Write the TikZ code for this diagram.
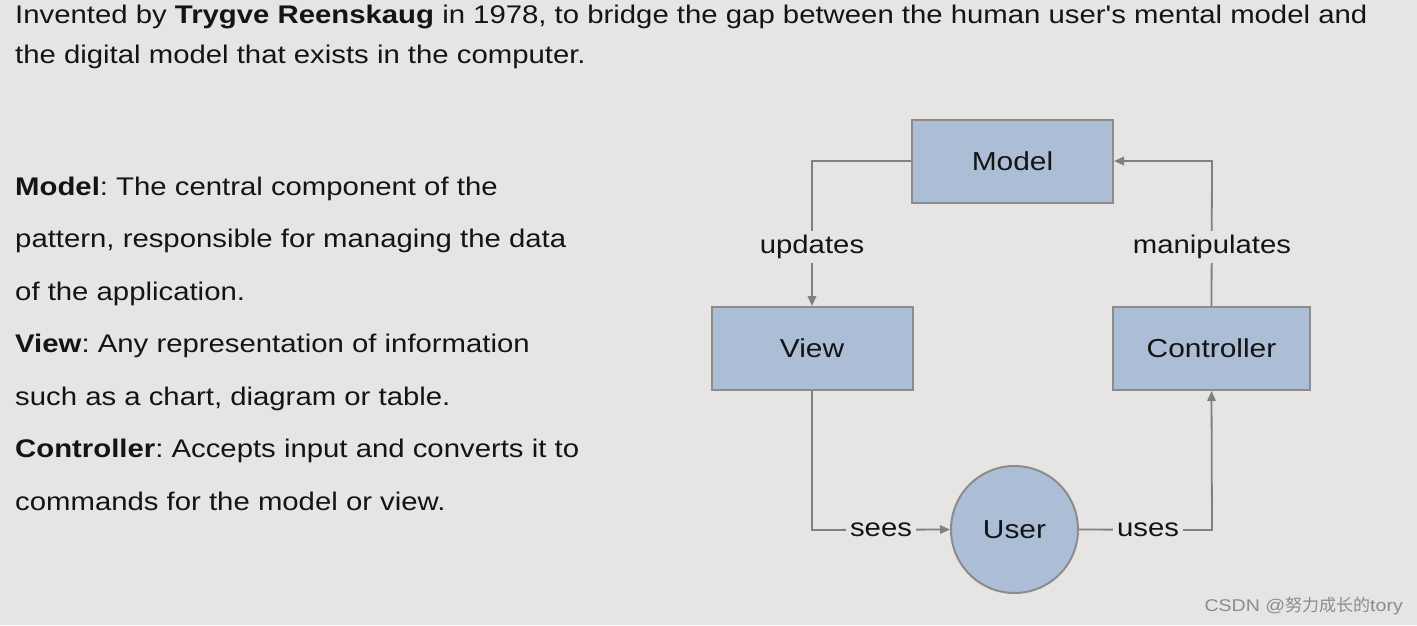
\documentclass[tikz,border=0pt]{standalone}
\usepackage{fontspec}
\setmainfont{Liberation Sans}[FakeStretch=1.15]
\newfontfamily\plainap{Liberation Sans}[FakeStretch=1.15]
\newfontfamily\cjkfont{Noto Sans CJK SC}
\usetikzlibrary{arrows.meta,shapes.geometric}
\definecolor{bgc}{RGB}{231,229,228}
\definecolor{boxfill}{RGB}{171,190,213}
\definecolor{boxline}{RGB}{140,140,142}
\definecolor{linec}{RGB}{128,128,130}
\definecolor{txt}{RGB}{20,20,20}
\tikzset{
  txtfont/.style={font=\fontsize{25.5}{30}\selectfont, text=txt},
  para/.style={txtfont, anchor=base west, inner sep=0pt},
  block/.style={draw=boxline, line width=2pt, fill=boxfill, minimum width=201pt, minimum height=83pt, inner sep=0pt, font=\fontsize{26}{30}\selectfont, text=txt},
  userc/.style={circle, draw=boxline, line width=2pt, fill=boxfill, minimum size=127pt, inner sep=0pt, font=\fontsize{26}{30}\selectfont, text=txt},
  conn/.style={draw=linec, line width=1.8pt},
  arr/.style={conn, -{Triangle[length=10pt,width=8.5pt]}},
  lbl/.style={txtfont, fill=bgc, inner sep=4pt},
}
\frenchspacing
\begin{document}
\begin{tikzpicture}[x=1pt,y=-1pt]
\fill[bgc] (0,0) rectangle (1417,625);
\useasboundingbox (0,0) rectangle (1417,625);

% top text
\node[para] (t1) at (15,23) {Invented by \textbf{Trygve Reenskaug} in 1978, to bridge the gap between the human user{\plainap '}s mental model and};
\node[para] (t2) at (15,63) {the digital model that exists in the computer.};

% left block
\node[para] (l1) at (15,195) {\textbf{Model}: The central component of the};
\node[para] (l2) at (15,247.5) {pattern, responsible for managing the data};
\node[para] (l3) at (15,300) {of the application.};
\node[para] (l4) at (15,352.5) {\textbf{View}: Any representation of information};
\node[para] (l5) at (15,405) {such as a chart, diagram or table.};
\node[para] (l6) at (15,457.5) {\textbf{Controller}: Accepts input and converts it to};
\node[para] (l7) at (15,510) {commands for the model or view.};

% diagram
\node[block] (model) at (1012.5,161) {Model};
\node[block] (view) at (812,348.5) {View};
\node[block, minimum width=197pt] (ctrl) at (1211.5,348.5) {Controller};
\node[userc] (user) at (1014.5,529.5) {User};

\coordinate (c1) at (812,161);
\coordinate (c2) at (1212,161);
\coordinate (c3) at (812,530);
\coordinate (c4) at (1212,530);

\draw[arr] (model.west |- c1) -- (c1) -- (view.north);
\draw[arr] (ctrl.north) -- (c2) -- (model.east |- c2);
\draw[arr] (view.south) -- (c3) -- (user.west);
\draw[arr] (user.east) -- (c4) -- (ctrl.south);

\node[lbl] (lu) at (812,247) {updates};
\node[lbl] (lm) at (1212,247) {manipulates};
\node[lbl] (ls) at (881,530) {sees};
\node[lbl] (lus) at (1148,530) {uses};

% watermark
\node[anchor=base east, inner sep=0pt, text=black!45, font=\fontsize{17}{20}\selectfont] (wm) at (1403,611) {CSDN @{\cjkfont 努力成长的}tory};
\end{tikzpicture}
\end{document}
